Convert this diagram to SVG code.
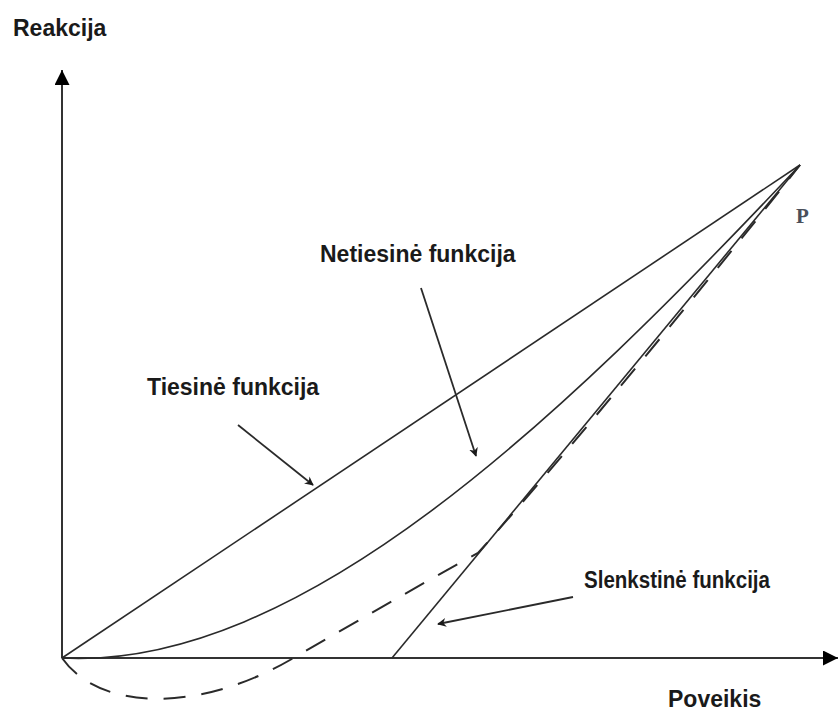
<svg xmlns="http://www.w3.org/2000/svg" width="838" height="711" viewBox="0 0 838 711">
<style>
.lbl{font-family:"Liberation Sans",Arial,sans-serif;font-weight:bold;font-size:23px;fill:#1a1a1a}
.crv{fill:none;stroke:#2a2a2a;stroke-width:1.6}
.dash{fill:none;stroke:#2a2a2a;stroke-width:2;stroke-dasharray:22 16}
.ax{stroke:#333;stroke-width:2}
.ptr{stroke:#2a2a2a;stroke-width:1.8;fill:none}
</style>
<defs>
<marker id="ah" viewBox="0 0 10 10" refX="9" refY="5" markerWidth="9" markerHeight="9" markerUnits="userSpaceOnUse" orient="auto">
<path d="M0,0 L10,5 L0,10 L3,5 Z" fill="#1a1a1a"/>
</marker>
<marker id="axh" viewBox="0 0 10 10" refX="10" refY="5" markerWidth="15" markerHeight="15" markerUnits="userSpaceOnUse" orient="auto">
<path d="M0,0 L10,5 L0,10 Z" fill="#000"/>
</marker>
</defs>
<rect width="838" height="711" fill="#fff"/>
<g id="axes">
<line class="ax" x1="62" y1="658" x2="62" y2="70" marker-end="url(#axh)"/>
<line class="ax" x1="62" y1="658" x2="838" y2="658" marker-end="url(#axh)"/>
<text class="lbl" x="13" y="36">Reakcija</text>
<text class="lbl" x="668" y="707">Poveikis</text>
</g>
<g id="curves">
<path id="tiesine" class="crv" d="M62,658 L800,165"/>
<path id="netiesine" class="crv" d="M62,658 C300,670 560,420 800,165"/>
<path id="slenkstine" class="crv" d="M392,658 L800,165"/>
<path id="dashed" class="dash" d="M62,658 C100,712 200,712 290,660 C380,608 432,578 478,553 C568,452 716,272 800,165"/>
</g>
<g id="point-P">
<text x="796" y="223" font-family="Liberation Serif,serif" font-weight="bold" font-size="21" fill="#4a4f5a">P</text>
</g>
<g id="label-tiesine">
<text class="lbl" x="147" y="395">Tiesinė funkcija</text>
</g>
<g id="label-netiesine">
<text class="lbl" x="320" y="262">Netiesinė funkcija</text>
</g>
<g id="label-slenkstine">
<text class="lbl" x="584" y="588" textLength="186" lengthAdjust="spacingAndGlyphs">Slenkstinė funkcija</text>
</g>
<g id="connectors">
<line class="ptr" x1="238" y1="425" x2="313" y2="485" marker-end="url(#ah)"/>
<line class="ptr" x1="421" y1="288" x2="476" y2="456" marker-end="url(#ah)"/>
<line class="ptr" x1="573" y1="597" x2="438" y2="624" marker-end="url(#ah)"/>
</g>
</svg>
